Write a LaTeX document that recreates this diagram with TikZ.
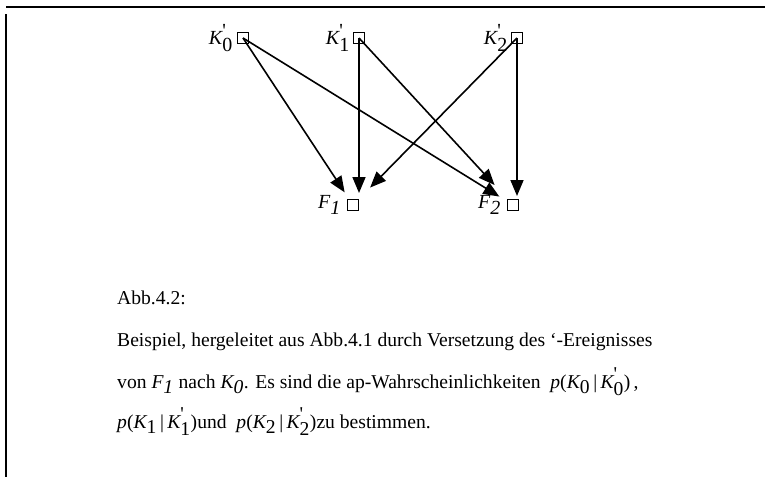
\documentclass[tikz,border=0pt]{standalone}
\usepackage{fontspec}
\setmainfont{Liberation Serif}
\usetikzlibrary{arrows.meta,positioning,calc}
\newcommand{\kprime}[1]{$\textit{K}^{\textrm{\textquotesingle}}_{\textrm{#1}}$}
\newcommand{\kidx}[1]{$\textit{K}_{\textrm{#1}}$}
\newcommand{\pcond}[1]{\textit{p}(\kidx{#1}\,|\,\kprime{#1})}
\tikzset{
  event/.style={draw, rectangle, minimum size=11pt, inner sep=0pt, line width=1pt},
  edge/.style={-{Triangle[length=16pt,width=13pt]}, line width=1.6pt},
  lbl/.style={font=\fontsize{20}{22}\selectfont, inner sep=1pt},
  capline/.style={font=\fontsize{19.6}{22}\selectfont, anchor=base west, inner sep=0pt}
}
\begin{document}
\begin{tikzpicture}[x=1pt,y=-1pt]
\useasboundingbox (0,0) rectangle (765,477);
% frame
\draw[line width=2pt] (6,7) -- (765,7);
\draw[line width=2pt] (6,14) -- (6,477);
% events
\node[event] (k0) at (243,38) {};
\node[event] (k1) at (359,38) {};
\node[event] (k2) at (517,38) {};
\node[event] (f1) at (353,205) {};
\node[event] (f2) at (513,205) {};
\node[lbl, left=3pt of k0] (k0l) {\kprime{0}};
\node[lbl, left=2pt of k1] (k1l) {\kprime{1}};
\node[lbl, left=2pt of k2] (k2l) {\kprime{2}};
\node[lbl, left=5pt of f1] (f1l) {$\textit{F}_{\textit{1}}$};
\node[lbl, left=5pt of f2] (f2l) {$\textit{F}_{\textit{2}}$};
% arrows
\draw[edge, shorten >=8pt] (k0.center) -- (f1);
\draw[edge, shorten >=9pt] (k0.center) -- (f2);
\draw[edge, shorten >=6pt] (k1.center) -- (k1.center |- f1.north);
\draw[edge, shorten >=19pt] (k1.center) -- (f2);
\draw[edge, shorten >=16pt] (k2.center) -- (f1);
\draw[edge, shorten >=3pt] (k2.center) -- (k2.center |- f2.north);
% caption
\node[capline] (c1) at (117,304) {Abb.4.2:};
\node[capline] (c2) at (117,346) {Beispiel, hergeleitet aus Abb.4.1 durch Versetzung des ‘-Ereignisses};
\node[capline] (c3) at (117,388) {von $\textit{F}_{\textit{1}}$ nach $\textit{K}_{\textit{0}}$. Es sind die ap-Wahrscheinlichkeiten\ \ \pcond{0}\,,};
\node[capline] (c4) at (117,428) {\pcond{1}und\ \ \pcond{2}zu bestimmen.};
\end{tikzpicture}
\end{document}
